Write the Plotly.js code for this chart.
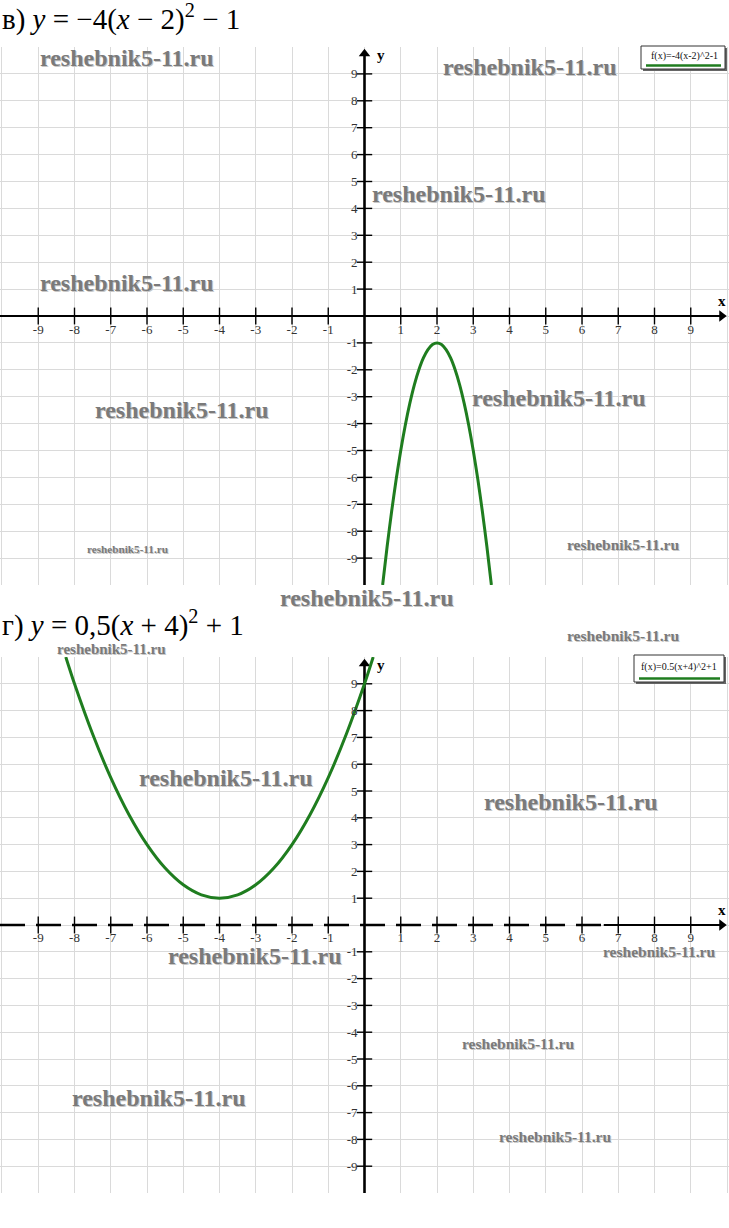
<!DOCTYPE html>
<html><head><meta charset="utf-8">
<script src="https://cdn.plot.ly/plotly-3.0.1.min.js"></script>
<style>html,body{margin:0;padding:0;background:#fff}#chart{width:729px;height:1228px}</style>
</head><body><div id="chart"></div>
<script>
// ---------- data ----------
const topTitle = 'в) <i>y</i> = −4(<i>x</i> − 2)<sup>2</sup> − 1';
const bottomTitle = 'г) <i>y</i> = 0,5(<i>x</i> + 4)<sup>2</sup> + 1';
const topLegendText = 'f(x)=-4(x-2)^2-1';
const bottomLegendText = 'f(x)=0.5(x+4)^2+1';
const watermarkText = 'reshebnik5-11.ru';

const gridValues = [-10,-9,-8,-7,-6,-5,-4,-3,-2,-1,0,1,2,3,4,5,6,7,8,9,10];
const gridLabels = ['','-9','-8','-7','-6','-5','-4','-3','-2','-1','','1','2','3','4','5','6','7','8','9',''];
const tickMarks = [-9,-8,-7,-6,-5,-4,-3,-2,-1,1,2,3,4,5,6,7,8,9];
const tickZeros = [0,0,0,0,0,0,0,0,0,0,0,0,0,0,0,0,0,0];

const xRange = [-10.055, 10.055];
const yRange = [-10, 10];
const bottomAxisDashEnd = 6.6;

const topCurveX = [0.5, 0.625, 0.75, 0.875, 1, 1.125, 1.25, 1.375, 1.5, 1.625, 1.75, 1.875, 2, 2.125, 2.25, 2.375, 2.5, 2.625, 2.75, 2.875, 3, 3.125, 3.25, 3.375, 3.5];
const topCurveY = [-10, -8.56, -7.25, -6.06, -5, -4.06, -3.25, -2.56, -2, -1.56, -1.25, -1.06, -1, -1.06, -1.25, -1.56, -2, -2.56, -3.25, -4.06, -5, -6.06, -7.25, -8.56, -10];
const bottomCurveX = [-8.24, -8, -7.5, -7, -6.5, -6, -5.5, -5, -4.5, -4, -3.5, -3, -2.5, -2, -1.5, -1, -0.5, 0, 0.24];
const bottomCurveY = [10, 9, 7.125, 5.5, 4.125, 3, 2.125, 1.5, 1.125, 1, 1.125, 1.5, 2.125, 3, 4.125, 5.5, 7.125, 9, 10];

// ---------- helpers (pixel -> paper) ----------
const W = 729, H = 1228;
const fx = p => p / W;
const fy = p => 1 - p / H;

const curveColor = '#1f7d1f';
const serif = 'Liberation Serif, Times New Roman, serif';
const tickFont = {family: serif, size: 13, color: '#333'};

function axisTraces(xa, ya, dashedX) {
  const t = [];
  if (dashedX) {
    t.push({x: [xRange[0], bottomAxisDashEnd], y: [0, 0], xaxis: xa, yaxis: ya, mode: 'lines',
      line: {color: '#000', width: 2.4, dash: '25px,11px'}, hoverinfo: 'skip'});
    t.push({x: [bottomAxisDashEnd, xRange[1] - 0.2], y: [0, 0], xaxis: xa, yaxis: ya, mode: 'lines',
      line: {color: '#000', width: 2.2}, hoverinfo: 'skip'});
  } else {
    t.push({x: [xRange[0], xRange[1] - 0.2], y: [0, 0], xaxis: xa, yaxis: ya, mode: 'lines',
      line: {color: '#000', width: 2.2}, hoverinfo: 'skip'});
  }
  t.push({x: [0, 0], y: [yRange[0], yRange[1] - 0.3], xaxis: xa, yaxis: ya, mode: 'lines',
    line: {color: '#000', width: 2.6}, hoverinfo: 'skip'});
  t.push({x: tickMarks, y: tickZeros, xaxis: xa, yaxis: ya, mode: 'markers',
    marker: {symbol: 'line-ns', size: 12, line: {color: '#000', width: 1.4}}, hoverinfo: 'skip'});
  t.push({x: tickZeros, y: tickMarks, xaxis: xa, yaxis: ya, mode: 'markers',
    marker: {symbol: 'line-ew', size: 11, line: {color: '#000', width: 1.4}}, hoverinfo: 'skip'});
  t.push({x: [0], y: [yRange[1] - 0.25], xaxis: xa, yaxis: ya, mode: 'markers',
    marker: {symbol: 'triangle-up', size: 10, color: '#000'}, hoverinfo: 'skip'});
  t.push({x: [xRange[1] - 0.2], y: [0], xaxis: xa, yaxis: ya, mode: 'markers',
    marker: {symbol: 'triangle-right', size: 10, color: '#000'}, hoverinfo: 'skip'});
  return t;
}

const traces = [
  ...axisTraces('x', 'y', false),
  {x: topCurveX, y: topCurveY, xaxis: 'x', yaxis: 'y', mode: 'lines',
   line: {color: curveColor, width: 3, shape: 'spline', smoothing: 0.8}, name: topLegendText},
  ...axisTraces('x2', 'y2', true),
  {x: bottomCurveX, y: bottomCurveY, xaxis: 'x2', yaxis: 'y2', mode: 'lines',
   line: {color: curveColor, width: 3, shape: 'spline', smoothing: 0.8}, name: bottomLegendText}
];

function xAxis(posPx) {
  return {domain: [0, 1], range: xRange, anchor: 'free', position: fy(posPx),
    tickmode: 'array', tickvals: gridValues, ticktext: gridLabels, ticks: '',
    ticklabelstandoff: 4, showgrid: true, gridcolor: '#dadada', gridwidth: 1,
    zeroline: false, showline: false, tickfont: tickFont, fixedrange: true};
}
function yAxis(topPx, botPx) {
  return {domain: [fy(botPx), fy(topPx)], range: yRange, anchor: 'free', position: fx(364.5),
    tickmode: 'array', tickvals: gridValues, ticktext: gridLabels, ticks: '',
    ticklabelstandoff: 7, showgrid: true, gridcolor: '#dadada', gridwidth: 1,
    zeroline: false, showline: false, tickfont: tickFont, fixedrange: true};
}

// watermark placements (pixel centres, size)
const wm = [
  [127,58,24],[530,67,24],[459,194,24],[127,283,24],[182,410,24],[559,398,24],[128,549,11.2],
  [623,544,15.5],[367,598,24],[623,635,15.5],[111,649,15],[226,778,24],[571,802,24],
  [255,956,24],[659,951,15.5],[518,1043,15.5],[159,1098,24],[555,1136,15.5]
];

const annotations = [];
wm.forEach(([x, y, s]) => annotations.push({
  xref: 'paper', yref: 'paper', x: fx(x), y: fy(y), xanchor: 'center', yanchor: 'middle',
  text: '<b>' + watermarkText + '</b>', showarrow: false,
  font: {family: serif, size: s, color: '#7a7a7a', shadow: '1px 1px 0px #c8c8c8'}
}));

const titleFont = {family: serif, size: 29, color: '#000'};
annotations.push({xref: 'paper', yref: 'paper', x: 0, y: fy(17), xanchor: 'left', yanchor: 'middle',
  text: topTitle, showarrow: false, font: titleFont});
annotations.push({xref: 'paper', yref: 'paper', x: 0, y: fy(623), xanchor: 'left', yanchor: 'middle',
  text: bottomTitle, showarrow: false, font: titleFont});

const axisLetterFont = {family: serif, size: 15, color: '#000'};
[['x','y'],['x2','y2']].forEach(([xa, ya]) => {
  annotations.push({xref: xa, yref: ya, x: 0.3, y: 9.7, text: '<b>y</b>', showarrow: false,
    font: axisLetterFont, xanchor: 'left', yanchor: 'middle'});
  annotations.push({xref: xa, yref: ya, x: 9.85, y: 0.55, text: '<b>x</b>', showarrow: false,
    font: axisLetterFont, xanchor: 'center', yanchor: 'middle'});
});

const legendFont = {family: serif, size: 10, color: '#111'};
annotations.push({xref: 'paper', yref: 'paper', x: fx(684), y: fy(56), text: topLegendText,
  showarrow: false, font: legendFont, xanchor: 'center', yanchor: 'middle'});
annotations.push({xref: 'paper', yref: 'paper', x: fx(679), y: fy(667), text: bottomLegendText,
  showarrow: false, font: legendFont, xanchor: 'center', yanchor: 'middle'});

const shapes = [];
function legendBox(l, t, r, b, uy) {
  shapes.push({type: 'rect', xref: 'paper', yref: 'paper', x0: fx(l + 2), x1: fx(r + 2), y0: fy(b + 2), y1: fy(t + 2),
    line: {width: 0}, fillcolor: '#666', layer: 'above'});
  shapes.push({type: 'rect', xref: 'paper', yref: 'paper', x0: fx(l), x1: fx(r), y0: fy(b), y1: fy(t),
    line: {width: 1, color: '#333'}, fillcolor: '#fff', layer: 'above'});
  shapes.push({type: 'line', xref: 'paper', yref: 'paper', x0: fx(l + 5), x1: fx(r - 4), y0: fy(uy), y1: fy(uy),
    line: {width: 2.5, color: curveColor}, layer: 'above'});
}
legendBox(641, 46, 725, 69, 65.5);
legendBox(634, 655, 724, 682, 678.5);

const layout = {
  width: W, height: H, margin: {l: 0, r: 0, t: 0, b: 0},
  paper_bgcolor: '#fff', plot_bgcolor: 'rgba(0,0,0,0)', showlegend: false,
  xaxis: xAxis(316), yaxis: yAxis(47, 585),
  xaxis2: xAxis(924), yaxis2: yAxis(657, 1193),
  annotations, shapes
};

Plotly.newPlot('chart', traces, layout, {displayModeBar: false, staticPlot: true});
</script></body></html>
